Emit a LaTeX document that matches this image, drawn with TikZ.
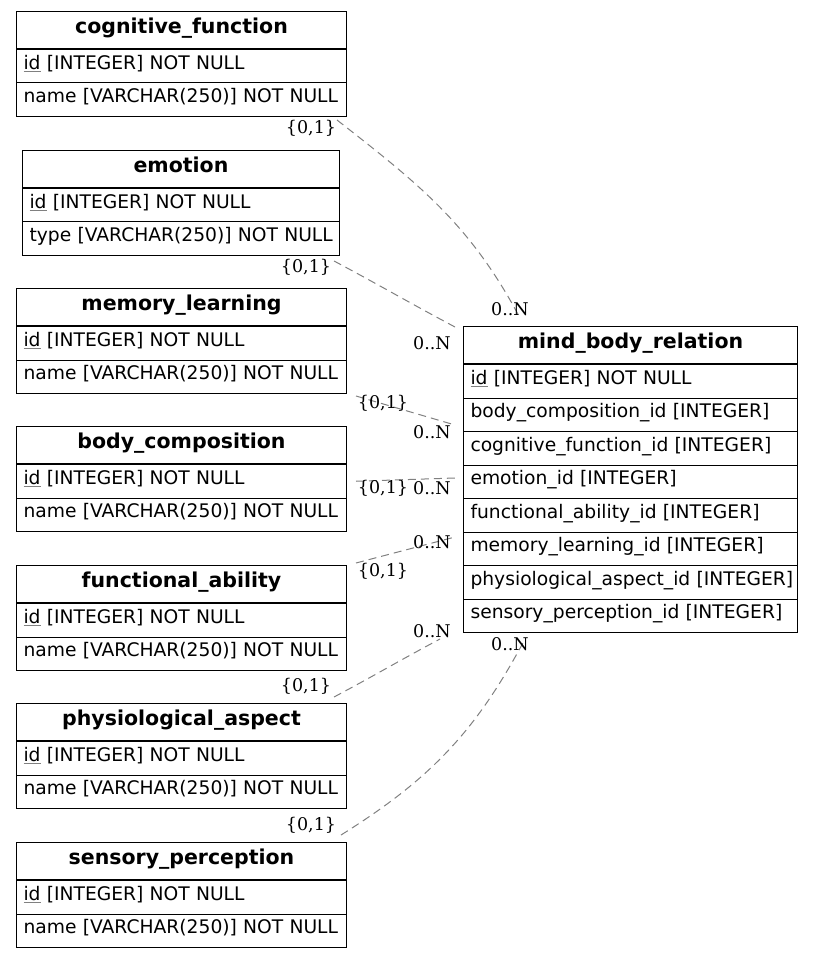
\documentclass[tikz,border=0pt]{standalone}
\usepackage{fontspec}
\setmainfont{DejaVu Sans}
\newfontfamily\lblfont{DejaVu Serif}
\usetikzlibrary{positioning}

\newcommand\tblfont{\fontsize{18.7}{22}\selectfont}
\newcommand\pk[1]{{\color{gray}\underline{\color{black}#1}}}

\tikzset{
  tblhead/.style={draw, anchor=north west, minimum height=37pt, inner sep=0pt,
    font=\fontsize{20.5}{24}\selectfont\bfseries, text height=14pt, text depth=7pt},
  tblrow/.style={draw, anchor=north west, minimum height=33.5pt, inner xsep=7pt, inner ysep=0pt,
    align=left, font=\tblfont, text height=12pt, text depth=6pt},
  rel/.style={draw=gray, dash pattern=on 8pt off 5pt, line width=1pt},
  card/.style={font=\lblfont\fontsize{17.5}{20}\selectfont, inner sep=0pt},
}

% name, x, y, width, title, fields
\newcommand\erdtable[6]{%
  \pgfmathsetmacro\tblw{#4-14}
  \node[tblhead, minimum width=#4pt] (#1) at (#2,#3) {#5};
  \foreach \fld [count=\k] in {#6}
    \node[tblrow, text width=\tblw pt] (#1-\k) at ([yshift={-(\k-1)*33.5pt}]#1.south west) {\mbox{\fld}};
}

\begin{document}
\begin{tikzpicture}[x=1pt, y=-1pt, line width=1pt]
  \useasboundingbox (0,0) rectangle (813,957);

  \erdtable{cogfn}{16}{11}{330}{cognitive\_function}{{\pk{id} [INTEGER] NOT NULL},{name [VARCHAR(250)] NOT NULL}}
  \erdtable{emo}{22}{150}{317}{emotion}{{\pk{id} [INTEGER] NOT NULL},{type [VARCHAR(250)] NOT NULL}}
  \erdtable{memlrn}{16}{288}{330}{memory\_learning}{{\pk{id} [INTEGER] NOT NULL},{name [VARCHAR(250)] NOT NULL}}
  \erdtable{bodyc}{16}{426}{330}{body\_composition}{{\pk{id} [INTEGER] NOT NULL},{name [VARCHAR(250)] NOT NULL}}
  \erdtable{funab}{16}{565}{330}{functional\_ability}{{\pk{id} [INTEGER] NOT NULL},{name [VARCHAR(250)] NOT NULL}}
  \erdtable{phys}{16}{703}{330}{physiological\_aspect}{{\pk{id} [INTEGER] NOT NULL},{name [VARCHAR(250)] NOT NULL}}
  \erdtable{sens}{16}{842}{330}{sensory\_perception}{{\pk{id} [INTEGER] NOT NULL},{name [VARCHAR(250)] NOT NULL}}

  \erdtable{mbr}{463}{326}{334}{mind\_body\_relation}{{\pk{id} [INTEGER] NOT NULL},
    {body\_composition\_id [INTEGER]},{cognitive\_function\_id [INTEGER]},{emotion\_id [INTEGER]},
    {functional\_ability\_id [INTEGER]},{memory\_learning\_id [INTEGER]},
    {physiological\_aspect\_id [INTEGER]},{sensory\_perception\_id [INTEGER]}}

  % relations
  \draw[rel] ([shift={(-10,3)}]cogfn-2.south east) to[out=-38, in=118] ([shift={(57,-8)}]mbr.north west);
  \draw[rel] ([shift={(-6,5)}]emo-2.south east) to[out=-28, in=152] ([shift={(-8,1)}]mbr.north west);
  \draw[rel] ([shift={(9,2)}]memlrn-2.south east) -- ([shift={(-8,99)}]mbr.north west);
  \draw[rel] ([shift={(9,0)}]bodyc-1.east) -- ([shift={(-8,152)}]mbr.north west);
  \draw[rel] ([shift={(9,-2)}]funab.north east) -- ([shift={(-8,211)}]mbr.north west);
  \draw[rel] ([shift={(-13,-6)}]phys.north east) to[out=28, in=-152] ([shift={(-23,6)}]mbr-8.south west);
  \draw[rel] ([shift={(-6,-7)}]sens.north east) to[out=32, in=-118] ([shift={(62,6)}]mbr-8.south west);

  % cardinalities
  \node[card] (c1a) at (311,128) {\{0,1\}};
  \node[card] (c1b) at (510,309) {0..N};
  \node[card] (c2a) at (306,267) {\{0,1\}};
  \node[card] (c2b) at (432,343) {0..N};
  \node[card] (c3a) at (383,403) {\{0,1\}};
  \node[card] (c3b) at (432,432) {0..N};
  \node[card] (c4a) at (383,488) {\{0,1\}};
  \node[card] (c4b) at (432,488) {0..N};
  \node[card] (c5a) at (383,571) {\{0,1\}};
  \node[card] (c5b) at (432,542) {0..N};
  \node[card] (c6a) at (306,686) {\{0,1\}};
  \node[card] (c6b) at (432,631) {0..N};
  \node[card] (c7a) at (311,825) {\{0,1\}};
  \node[card] (c7b) at (510,644) {0..N};
\end{tikzpicture}
\end{document}
